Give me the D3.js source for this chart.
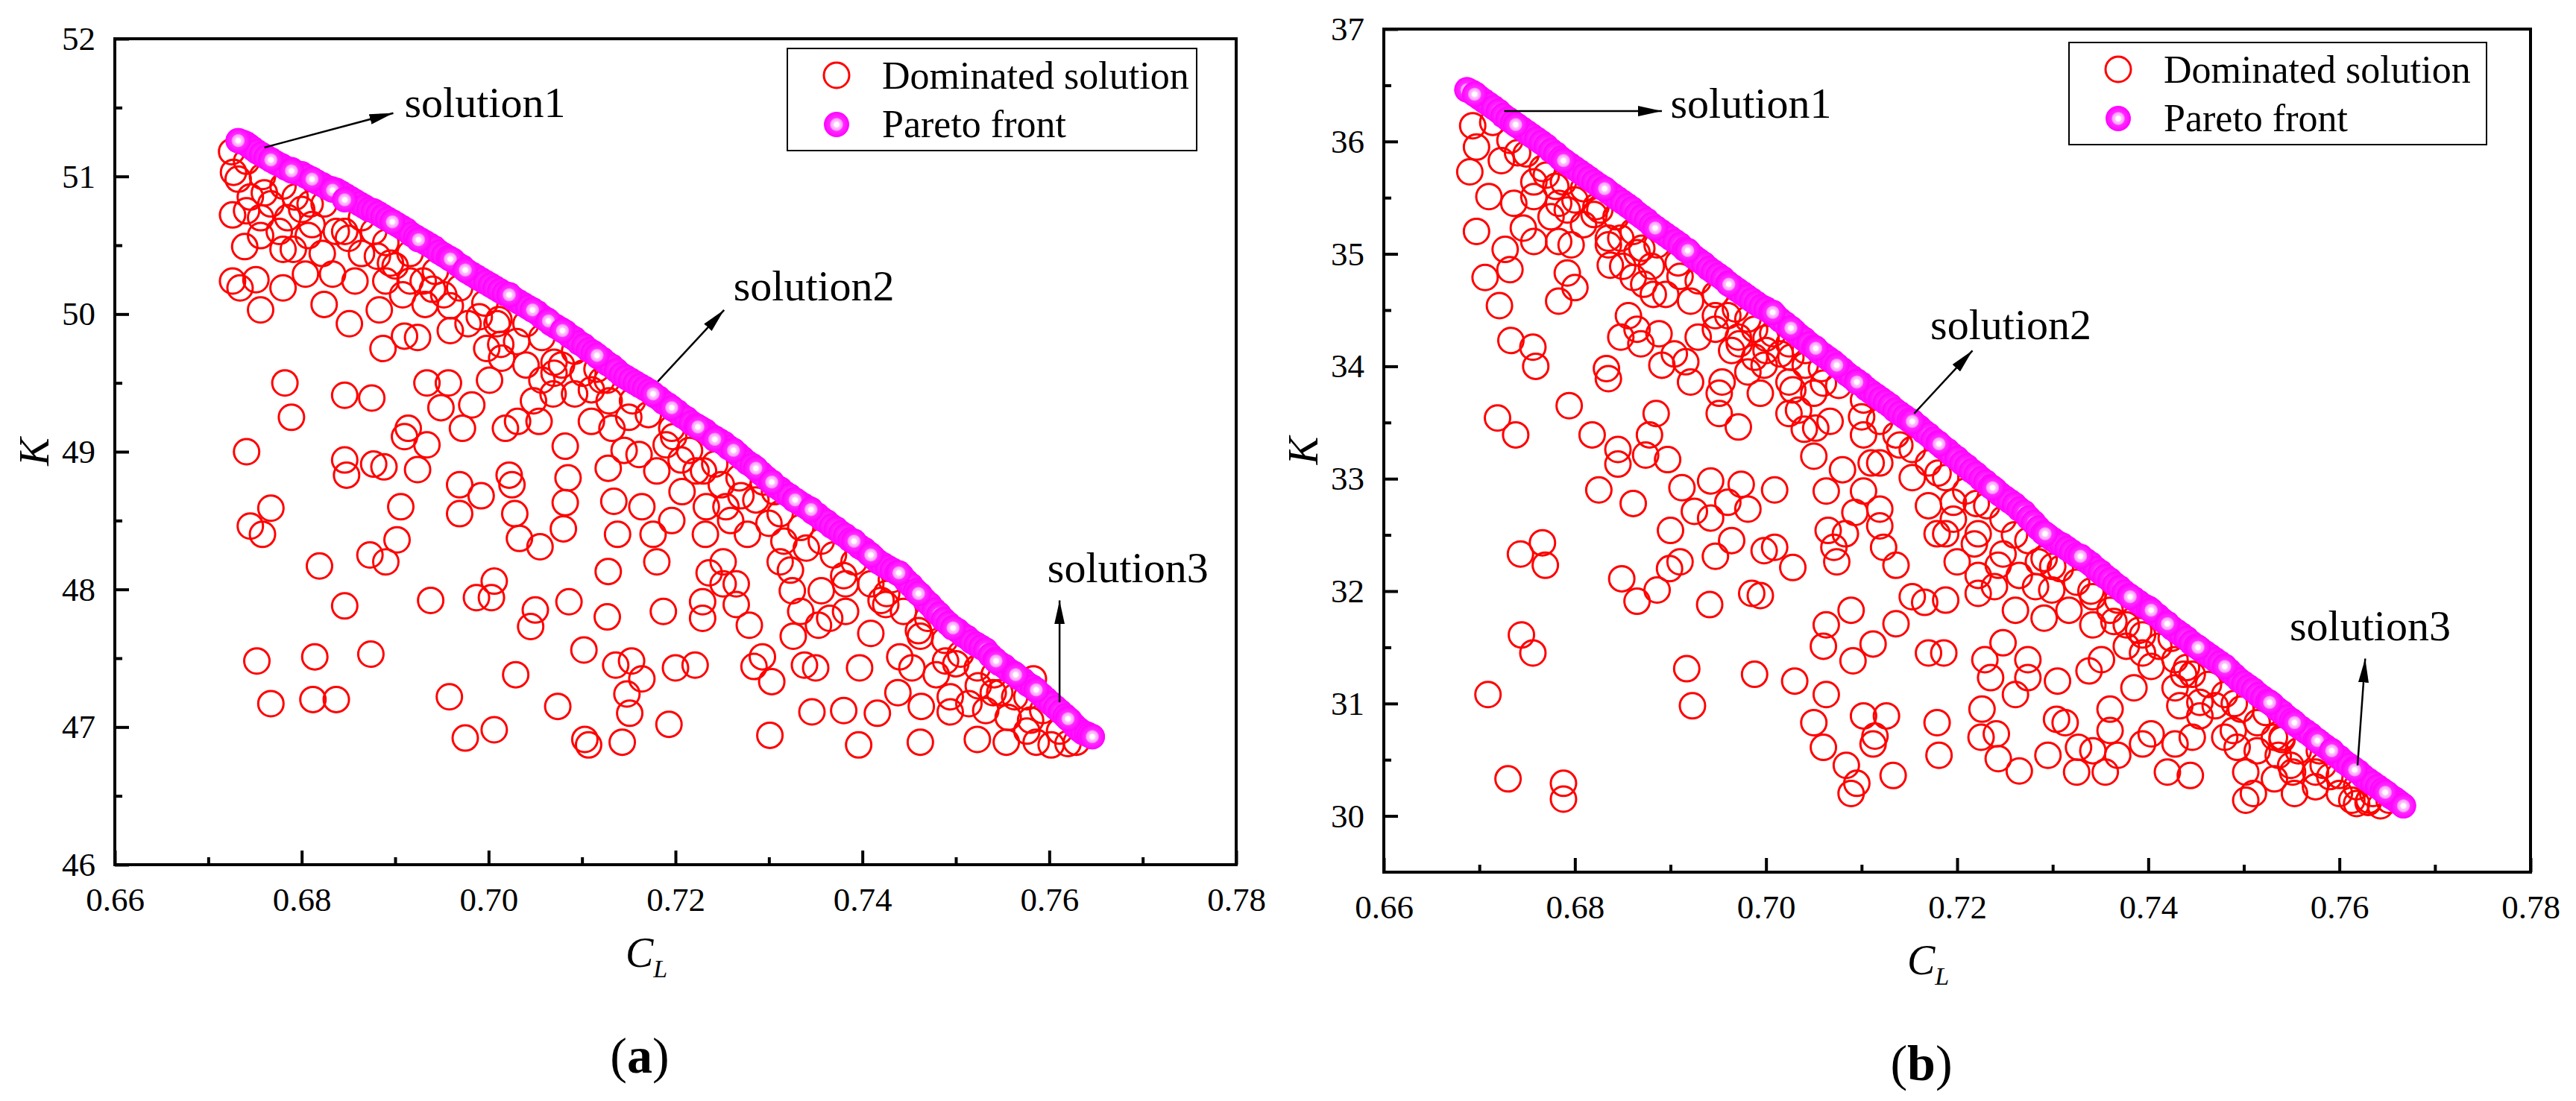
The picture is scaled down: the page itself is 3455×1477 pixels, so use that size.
<!DOCTYPE html>
<html>
<head>
<meta charset="utf-8">
<script src="https://cdn.jsdelivr.net/npm/d3@7"></script>
<style>
  body { margin: 0; background: #fff; }
  svg, text { font-family: "Liberation Serif", "Times New Roman", serif; fill: #000; }
</style>
</head>
<body>
<script>
// ---- tick values / labels
var xTicks = [0.66, 0.68, 0.70, 0.72, 0.74, 0.76, 0.78];
var xMinorTicks = [0.67, 0.69, 0.71, 0.73, 0.75, 0.77];
var yTicksA = [46, 47, 48, 49, 50, 51, 52];
var yMinorA = [46.5, 47.5, 48.5, 49.5, 50.5, 51.5];
var yTicksB = [30, 31, 32, 33, 34, 35, 36, 37];
var yMinorB = [30.5, 31.5, 32.5, 33.5, 34.5, 35.5, 36.5];
var legendLabels = ['Dominated solution', 'Pareto front'];

// ---- (a) dominated solutions [CL, K]
var dominatedA = [
  [0.6725,51.18],[0.6727,51.03],[0.6732,50.98],[0.6726,50.72],[0.6741,50.75],[0.6739,50.49],[0.6756,50.70],[0.6756,50.57],
  [0.6726,50.24],[0.6734,50.19],[0.6751,50.25],[0.6756,50.03],[0.6767,50.80],[0.6745,50.85],[0.6780,50.47],[0.6780,50.19],
  [0.6791,50.47],[0.6804,50.29],[0.6807,50.57],[0.6809,50.80],[0.6824,50.07],[0.6833,50.29],[0.6822,50.44],[0.6846,50.60],
  [0.6851,49.93],[0.6857,50.24],[0.6881,50.42],[0.6883,50.03],[0.6887,49.75],[0.6895,50.37],[0.6908,50.14],[0.6910,49.84],
  [0.6924,49.83],[0.6930,50.24],[0.6934,49.50],[0.6932,50.07],[0.6949,49.32],[0.6957,49.50],[0.6959,50.06],[0.6959,49.88],
  [0.6972,49.17],[0.6982,49.34],[0.7001,49.52],[0.6998,49.75],[0.7011,49.96],[0.7014,49.68],
  [0.6782,49.50],[0.6789,49.25],[0.6741,49.00],[0.6745,48.46],[0.6758,48.40],[0.6767,48.59],[0.6752,47.48],[0.6767,47.17],
  [0.6814,47.51],[0.6812,47.20],[0.6837,47.20],[0.6819,48.17],[0.6846,47.88],[0.6874,47.53],[0.6846,49.41],[0.6846,48.94],
  [0.6848,48.83],[0.6875,49.39],[0.6877,48.91],[0.6888,48.89],[0.6890,48.20],[0.6873,48.25],[0.6902,48.36],[0.6906,48.60],
  [0.6914,49.17],[0.6910,49.11],[0.6924,48.87],[0.6934,49.05],[0.6938,47.92],[0.6958,47.22],[0.6975,46.92],[0.6969,48.76],
  [0.6969,48.55],[0.6987,47.94],[0.6992,48.68],[0.7003,47.94],[0.7006,48.06],[0.7006,46.98],[0.7029,47.38],[0.7045,47.73],
  [0.7050,47.85],[0.7055,48.31],
  [0.7018,49.17],[0.7022,48.83],[0.7025,48.76],[0.7028,48.55],[0.7033,48.37],[0.7031,49.22],[0.7048,49.37],[0.7054,49.22],
  [0.7069,49.42],[0.7070,49.57],[0.7078,49.63],[0.7082,49.04],[0.7082,48.63],[0.7085,48.81],[0.7080,48.44],[0.7074,47.15],
  [0.7086,47.91],[0.7102,47.56],[0.7107,46.87],[0.7103,46.91],[0.7116,49.60],[0.7121,49.52],[0.7129,49.37],[0.7132,49.17],
  [0.7128,48.88],[0.7134,48.64],[0.7138,48.40],[0.7128,48.13],[0.7127,47.80],[0.7136,47.45],[0.7153,47.48],[0.7148,47.24],
  [0.7143,46.89],[0.7151,47.10],[0.7164,47.35],[0.7161,48.98],[0.7164,48.60],[0.7176,48.40],[0.7180,48.20],[0.7187,47.84],
  [0.7196,48.50],[0.7200,47.43],[0.7193,47.02],[0.7196,49.17],[0.7206,48.94],[0.7222,48.86],[0.7229,47.91],[0.7232,48.40],
  [0.7236,48.12],[0.7251,48.04],[0.7254,48.60],[0.7249,48.76],[0.7251,48.20],[0.7265,48.04],[0.7221,47.45],[0.7229,47.79],
  [0.7265,47.89],[0.7279,47.74],[0.7284,47.44],[0.7293,47.51],[0.7303,47.33],[0.7301,46.94],[0.7294,48.78],[0.7306,48.71],
  [0.7316,48.35],[0.7323,48.14],[0.7325,47.99],[0.7326,47.66],[0.7334,47.84],[0.7338,47.45],[0.7353,47.74],[0.7350,47.43],
  [0.7346,47.11],[0.7380,47.12],[0.7382,48.04],[0.7382,47.84],[0.7397,47.43],[0.7396,46.87],[0.7416,47.10],[0.7425,47.89],
  [0.7431,48.07],[0.7440,47.51],[0.7438,47.25],[0.7462,47.66],[0.7463,47.15],[0.7462,46.89],[0.7489,47.48],[0.7494,47.22],
  [0.7494,47.11],[0.7523,46.91],[0.7554,46.89],[0.7556,47.07],[0.7586,46.89],[0.7583,47.35],[0.7576,47.22],[0.7547,47.25],
  [0.7524,47.30],
  [0.6741,51.11],[0.6758,51.00],[0.6780,50.93],[0.6793,50.85],[0.6824,50.80],[0.6864,50.70],[0.6877,50.60],[0.6890,50.52],
  [0.6916,50.44],[0.6943,50.31],[0.6969,50.19],[0.6996,50.08],[0.7009,49.93],[0.7040,49.93],[0.7057,49.83],[0.7092,49.73],
  [0.7101,49.57],[0.7127,49.52],[0.7154,49.37],[0.7171,49.27],[0.7198,49.11],[0.7215,49.01],[0.7242,48.91],[0.7268,48.81],
  [0.7286,48.65],[0.7312,48.55],[0.7334,48.45],[0.7356,48.35],[0.7369,48.25],[0.7391,48.20],[0.7409,48.04],[0.7426,47.97],
  [0.7444,47.84],[0.7470,47.79],[0.7488,47.63],[0.7505,47.53],[0.7523,47.43],[0.7541,47.38],[0.7563,47.22],[0.7593,47.12],
  [0.7611,46.97],[0.7629,46.89],[0.7602,46.87],[0.7576,46.97],[0.7532,47.12],[0.7514,47.17],[0.7479,47.38],[0.7453,47.43],
  [0.7409,47.68],[0.7356,47.99],[0.7365,47.79],[0.7312,48.20],[0.7277,48.40],[0.7259,48.50],[0.7233,48.60],[0.7207,48.71],
  [0.7180,48.86],[0.7145,49.01],[0.7110,49.22],[0.7092,49.42],[0.7057,49.52],[0.7040,49.63],[0.7013,49.78],[0.6978,49.93],
  [0.6952,50.14],[0.6916,50.24],[0.6890,50.24],[0.6864,50.44],[0.6837,50.60],[0.6811,50.65],[0.6785,50.70],[0.6776,50.60],
  [0.6760,50.88],[0.6800,50.76],[0.6850,50.55],[0.6900,50.35],[0.6940,50.18],[0.6990,49.98],[0.7030,49.80],[0.7070,49.65],
  [0.7110,49.45],[0.7150,49.25],[0.7190,49.05],[0.7230,48.86],[0.7270,48.68],[0.7300,48.48],[0.7340,48.30],[0.7380,48.10],
  [0.7420,47.92],[0.7460,47.70],[0.7500,47.46],[0.7540,47.25],[0.7580,47.05],[0.7620,46.88]
];

// ---- (a) Pareto front (dense run along the front)
var paretoA = [
  [0.6732,51.26],[0.6740,51.24],[0.6748,51.20],[0.6757,51.16],[0.6767,51.12],[0.6778,51.08],[0.6789,51.05],[0.6800,51.02],
  [0.6811,50.98],[0.6822,50.94],[0.6832,50.91],[0.6842,50.88],[0.6852,50.84],[0.6862,50.80],[0.6872,50.76],[0.6882,50.73],
  [0.6892,50.69],[0.6902,50.65],[0.6912,50.61],[0.6922,50.56],[0.6932,50.52],[0.6942,50.48],[0.6952,50.43],[0.6962,50.39],
  [0.6972,50.34],[0.6982,50.29],[0.6992,50.25],[0.7002,50.21],[0.7012,50.17],[0.7022,50.14],[0.7032,50.09],[0.7042,50.05],
  [0.7052,50.01],[0.7062,49.96],[0.7072,49.91],[0.7082,49.87],[0.7092,49.82],[0.7102,49.77],[0.7112,49.72],[0.7122,49.67],
  [0.7132,49.62],[0.7142,49.56],[0.7152,49.52],[0.7162,49.48],[0.7172,49.44],[0.7182,49.39],[0.7192,49.34],[0.7202,49.29],
  [0.7212,49.24],[0.7222,49.19],[0.7232,49.15],[0.7242,49.10],[0.7252,49.06],[0.7262,49.01],[0.7272,48.95],[0.7282,48.90],
  [0.7292,48.84],[0.7302,48.78],[0.7312,48.73],[0.7322,48.68],[0.7332,48.63],[0.7342,48.59],[0.7352,48.54],[0.7362,48.49],
  [0.7372,48.44],[0.7382,48.39],[0.7392,48.34],[0.7402,48.29],[0.7412,48.23],[0.7422,48.18],[0.7432,48.14],[0.7442,48.10],
  [0.7452,48.03],[0.7462,47.96],[0.7472,47.89],[0.7482,47.82],[0.7492,47.75],[0.7502,47.70],[0.7512,47.65],[0.7522,47.60],
  [0.7532,47.56],[0.7542,47.49],[0.7552,47.44],[0.7562,47.39],[0.7572,47.34],[0.7582,47.29],[0.7592,47.23],[0.7602,47.17],
  [0.7612,47.11],[0.7622,47.05],[0.7632,46.98],[0.7640,46.95],[0.7646,46.93],
  [0.6736,51.25],[0.6744,51.22],[0.6752,51.18],[0.6762,51.14],[0.6772,51.10],[0.6783,51.06],[0.6794,51.03],[0.6805,51.00],
  [0.6816,50.96],[0.6827,50.92],[0.6837,50.90],[0.6847,50.86],[0.6857,50.82],[0.6867,50.78],[0.6877,50.75],[0.6887,50.71],
  [0.6897,50.67],[0.6907,50.63],[0.6917,50.58],[0.6927,50.54],[0.6937,50.50],[0.6947,50.45],[0.6957,50.41],[0.6967,50.36],
  [0.6977,50.31],[0.6987,50.27],[0.6997,50.23],[0.7007,50.19],[0.7017,50.15],[0.7027,50.11],[0.7037,50.07],[0.7047,50.03],
  [0.7057,49.98],[0.7067,49.93],[0.7077,49.89],[0.7087,49.84],[0.7097,49.79],[0.7107,49.74],[0.7117,49.69],[0.7127,49.64],
  [0.7137,49.59],[0.7147,49.54],[0.7157,49.50],[0.7167,49.46],[0.7177,49.41],[0.7187,49.36],[0.7197,49.31],[0.7207,49.26],
  [0.7217,49.21],[0.7227,49.17],[0.7237,49.12],[0.7247,49.08],[0.7257,49.03],[0.7267,48.98],[0.7277,48.92],[0.7287,48.87],
  [0.7297,48.81],[0.7307,48.75],[0.7317,48.70],[0.7327,48.65],[0.7337,48.61],[0.7347,48.56],[0.7357,48.51],[0.7367,48.46],
  [0.7377,48.41],[0.7387,48.36],[0.7397,48.31],[0.7407,48.26],[0.7417,48.20],[0.7427,48.16],[0.7437,48.12],[0.7447,48.06],
  [0.7457,47.99],[0.7467,47.92],[0.7477,47.85],[0.7487,47.78],[0.7497,47.72],[0.7507,47.67],[0.7517,47.62],[0.7527,47.58],
  [0.7537,47.52],[0.7547,47.46],[0.7557,47.41],[0.7567,47.36],[0.7577,47.31],[0.7587,47.26],[0.7597,47.20],[0.7607,47.14],
  [0.7617,47.08],[0.7627,47.01],[0.7636,46.96],[0.7643,46.94]
];
// (a) Pareto points that sit on top (their highlights stay visible)
var paretoTopA = [
  [0.6732,51.26],[0.6767,51.12],[0.6789,51.04],[0.6811,50.98],[0.6833,50.90],[0.6846,50.83],[0.6897,50.67],[0.6925,50.54],
  [0.6959,50.40],[0.6975,50.32],[0.7022,50.14],[0.7047,50.03],[0.7064,49.95],[0.7079,49.88],[0.7116,49.70],[0.7176,49.42],
  [0.7196,49.32],[0.7224,49.18],[0.7242,49.09],[0.7262,49.01],[0.7286,48.88],[0.7303,48.78],[0.7328,48.65],[0.7345,48.58],
  [0.7391,48.35],[0.7409,48.25],[0.7439,48.12],[0.7460,47.97],[0.7497,47.72],[0.7543,47.48],[0.7564,47.38],[0.7586,47.27],
  [0.7620,47.06],[0.7646,46.93]
];

// ---- (b) dominated solutions
var dominatedB = [
  [0.6693,36.14],[0.6697,35.95],[0.6690,35.73],[0.6697,35.20],[0.6706,34.79],[0.6721,34.54],[0.6710,35.51],[0.6727,35.04],
  [0.6732,34.86],[0.6736,35.45],[0.6746,35.23],[0.6757,35.11],[0.6757,35.51],[0.6775,35.33],[0.6770,35.70],[0.6792,35.39],
  [0.6796,35.08],[0.6783,35.11],[0.6783,34.58],[0.6800,34.70],[0.6792,34.83],[0.6809,35.58],[0.6822,35.42],[0.6835,35.14],
  [0.6837,34.90],[0.6848,35.14],[0.6850,34.89],[0.6865,35.01],[0.6872,34.73],[0.6880,34.89],[0.6882,34.64],[0.6888,34.29],
  [0.6856,34.45],[0.6865,34.33],[0.6848,34.26],[0.6869,34.20],[0.6891,34.01],[0.6904,34.11],[0.6916,34.04],[0.6921,33.86],
  [0.6929,34.26],[0.6947,34.45],[0.6954,33.86],[0.6951,33.58],[0.6964,34.14],[0.6971,34.26],[0.6988,34.33],[0.6988,34.08],
  [0.6994,33.76],[0.7000,34.14],[0.7015,34.11],[0.7026,34.08],[0.7028,33.79],[0.7041,34.01],[0.7034,33.61],[0.7040,33.44],
  [0.7024,33.58],[0.6981,33.95],[0.6951,33.76],
  [0.6733,34.23],[0.6756,34.17],[0.6759,34.00],[0.6719,33.54],[0.6738,33.39],[0.6794,33.65],[0.6818,33.39],[0.6825,32.90],
  [0.6835,33.89],[0.6833,33.98],[0.6845,33.26],[0.6845,33.13],[0.6861,32.78],[0.6849,32.11],[0.6865,31.91],[0.6886,32.01],
  [0.6899,32.20],[0.6900,32.54],[0.6912,32.92],[0.6910,32.26],[0.6925,32.71],[0.6942,32.98],[0.6942,32.65],[0.6947,32.31],
  [0.6941,31.88],[0.6960,32.79],[0.6964,32.45],[0.6971,33.46],[0.6974,32.95],[0.6981,32.73],[0.6985,31.98],[0.6994,31.96],
  [0.6998,32.36],[0.7009,32.90],[0.7009,32.39],[0.7028,32.21],[0.7030,31.20],[0.6988,31.26],[0.6923,30.98],[0.6917,31.31],
  [0.6897,33.17],[0.6878,33.39],[0.6885,33.58],[0.6874,33.21],
  [0.6709,31.08],[0.6744,31.61],[0.6756,31.45],[0.6743,32.33],[0.6769,32.23],[0.6766,32.43],[0.6730,30.33],[0.6788,30.29],
  [0.6788,30.15],
  [0.7050,30.83],[0.7060,30.61],[0.7063,31.08],[0.7084,30.45],[0.7089,30.20],[0.7095,30.29],[0.7089,31.83],[0.7091,31.38],
  [0.7102,30.89],[0.7112,31.53],[0.7114,30.71],[0.7112,30.64],[0.7126,30.89],[0.7136,31.71],[0.7133,30.36],[0.7060,31.51],
  [0.7063,31.70],[0.7074,32.26],[0.7071,32.39],[0.7083,32.51],[0.7093,32.70],[0.7102,32.89],[0.7110,33.14],[0.7080,33.08],
  [0.7065,32.54],[0.7063,32.89],[0.7050,33.20],[0.7052,33.45],[0.7119,32.73],[0.7119,32.58],[0.7123,32.39],[0.7136,32.23],
  [0.7153,31.95],[0.7166,31.90],[0.7170,31.45],[0.7179,30.83],[0.7181,30.54],[0.7188,31.92],[0.7186,31.45],[0.7188,32.51],
  [0.7200,32.26],[0.7179,32.51],[0.7196,32.79],[0.7218,32.42],[0.7222,32.14],[0.7222,31.98],[0.7229,31.39],[0.7235,31.23],
  [0.7226,30.95],[0.7225,30.70],[0.7241,30.73],[0.7243,30.51],[0.7243,32.23],[0.7239,32.04],[0.7248,31.54],[0.7261,31.08],
  [0.7265,30.40],[0.7261,31.83],[0.7274,31.39],[0.7274,31.23],[0.7285,32.26],[0.7282,32.04],[0.7291,31.76],[0.7295,30.54],
  [0.7304,30.86],[0.7305,31.20],[0.7313,30.83],[0.7325,30.39],[0.7327,30.61],[0.7338,31.29],[0.7342,30.58],[0.7355,30.39],
  [0.7360,30.76],[0.7351,31.39],[0.7360,30.95],[0.7368,30.54],[0.7364,31.73],[0.7368,31.92],[0.7385,31.14],[0.7394,31.45],
  [0.7394,30.64],[0.7403,30.73],[0.7420,30.39],[0.7428,30.64],[0.7444,30.36],[0.7433,30.98],[0.7437,31.26],[0.7424,31.58],
  [0.7446,30.70],[0.7454,31.01],[0.7470,30.98],[0.7489,30.76],[0.7493,30.61],[0.7502,30.39],[0.7523,30.92],[0.7532,30.70],
  [0.7536,30.54],[0.7551,30.39],[0.7553,30.20],[0.7575,30.39],[0.7579,30.58],[0.7600,30.20],[0.7613,30.14],[0.7618,30.11],
  [0.7631,30.14],[0.7643,30.09],[0.7510,30.20],[0.7502,30.14],
  [0.6714,36.17],[0.6732,36.01],[0.6749,35.89],[0.6766,35.76],[0.6788,35.64],[0.6800,35.48],[0.6826,35.39],[0.6843,35.33],
  [0.6861,35.20],[0.6886,35.08],[0.6908,34.92],[0.6929,34.76],[0.6947,34.64],[0.6968,34.51],[0.6981,34.42],[0.7007,34.29],
  [0.7024,34.20],[0.7041,34.14],[0.7058,33.98],[0.7076,33.83],[0.7102,33.70],[0.7119,33.51],[0.7136,33.39],[0.7153,33.26],
  [0.7170,33.14],[0.7188,33.01],[0.7209,32.89],[0.7231,32.76],[0.7248,32.64],[0.7274,32.45],[0.7291,32.29],[0.7308,32.20],
  [0.7325,32.08],[0.7342,31.95],[0.7360,31.83],[0.7377,31.70],[0.7394,31.61],[0.7411,31.51],[0.7428,31.39],[0.7446,31.26],
  [0.7463,31.17],[0.7480,31.08],[0.7497,30.95],[0.7514,30.83],[0.7540,30.70],[0.7557,30.58],[0.7583,30.45],[0.7600,30.36],
  [0.7618,30.26],[0.7635,30.20],[0.7652,30.14],
  [0.6723,35.83],[0.6757,35.64],[0.6783,35.45],[0.6809,35.26],[0.6835,35.08],[0.6861,34.79],[0.6895,34.64],[0.6921,34.58],
  [0.6947,34.33],[0.6972,34.20],[0.6998,34.01],[0.7024,33.86],[0.7050,33.76],[0.7067,33.51],[0.7102,33.39],[0.7119,33.14],
  [0.7153,33.01],[0.7170,32.76],[0.7196,32.64],[0.7222,32.51],[0.7248,32.33],[0.7265,32.14],[0.7299,32.01],[0.7317,31.83],
  [0.7342,31.70],[0.7377,31.51],[0.7403,31.33],[0.7428,31.14],[0.7454,30.89],[0.7480,30.70],[0.7514,30.58],[0.7549,30.45],
  [0.7575,30.26],[0.7532,30.33],
  [0.6740,35.90],[0.6780,35.60],[0.6820,35.35],[0.6870,35.05],[0.6910,34.80],[0.6960,34.45],[0.7000,34.25],[0.7060,33.85],
  [0.7100,33.55],[0.7140,33.30],[0.7180,33.05],[0.7220,32.78],[0.7260,32.50],[0.7300,32.22],[0.7340,32.00],[0.7390,31.65],
  [0.7440,31.32],[0.7490,31.00],[0.7540,30.68],[0.7590,30.35],[0.7630,30.12]
];

// ---- (b) Pareto front
var paretoB = [
  [0.6687,36.46],[0.6692,36.44],[0.6700,36.39],[0.6710,36.33],[0.6720,36.27],[0.6730,36.20],[0.6740,36.14],[0.6750,36.08],
  [0.6760,36.02],[0.6770,35.96],[0.6780,35.89],[0.6790,35.82],[0.6800,35.76],[0.6810,35.70],[0.6820,35.64],[0.6830,35.58],
  [0.6840,35.52],[0.6850,35.46],[0.6860,35.40],[0.6870,35.33],[0.6880,35.26],[0.6890,35.20],[0.6900,35.14],[0.6910,35.08],
  [0.6920,35.01],[0.6930,34.94],[0.6940,34.87],[0.6950,34.81],[0.6960,34.74],[0.6970,34.68],[0.6980,34.62],[0.6990,34.56],
  [0.7000,34.51],[0.7010,34.45],[0.7020,34.38],[0.7030,34.31],[0.7040,34.24],[0.7050,34.17],[0.7060,34.10],[0.7070,34.04],
  [0.7080,33.97],[0.7090,33.90],[0.7100,33.84],[0.7110,33.77],[0.7120,33.71],[0.7130,33.65],[0.7140,33.58],[0.7150,33.52],
  [0.7160,33.46],[0.7170,33.39],[0.7180,33.32],[0.7190,33.25],[0.7200,33.18],[0.7210,33.11],[0.7220,33.04],[0.7230,32.97],
  [0.7240,32.90],[0.7250,32.83],[0.7260,32.77],[0.7270,32.70],[0.7280,32.61],[0.7290,32.52],[0.7300,32.46],[0.7310,32.41],
  [0.7320,32.35],[0.7330,32.30],[0.7340,32.24],[0.7350,32.17],[0.7360,32.10],[0.7370,32.03],[0.7380,31.96],[0.7390,31.90],
  [0.7400,31.85],[0.7410,31.78],[0.7420,31.71],[0.7430,31.64],[0.7440,31.58],[0.7450,31.51],[0.7460,31.45],[0.7470,31.39],
  [0.7480,31.33],[0.7490,31.25],[0.7500,31.18],[0.7510,31.12],[0.7520,31.05],[0.7530,30.99],[0.7540,30.92],[0.7550,30.85],
  [0.7560,30.78],[0.7570,30.72],[0.7580,30.65],[0.7590,30.59],[0.7600,30.52],[0.7610,30.45],[0.7620,30.39],[0.7630,30.32],
  [0.7640,30.26],[0.7650,30.20],[0.7658,30.15],[0.7664,30.11],[0.7667,30.09],
  [0.6696,36.42],[0.6705,36.36],[0.6715,36.30],[0.6725,36.23],[0.6735,36.17],[0.6745,36.11],[0.6755,36.05],[0.6765,35.99],
  [0.6775,35.92],[0.6785,35.85],[0.6795,35.79],[0.6805,35.73],[0.6815,35.67],[0.6825,35.61],[0.6835,35.55],[0.6845,35.49],
  [0.6855,35.43],[0.6865,35.36],[0.6875,35.30],[0.6885,35.23],[0.6895,35.17],[0.6905,35.11],[0.6915,35.04],[0.6925,34.97],
  [0.6935,34.91],[0.6945,34.84],[0.6955,34.78],[0.6965,34.71],[0.6975,34.65],[0.6985,34.59],[0.6995,34.53],[0.7005,34.48],
  [0.7015,34.41],[0.7025,34.34],[0.7035,34.27],[0.7045,34.20],[0.7055,34.13],[0.7065,34.07],[0.7075,34.00],[0.7085,33.93],
  [0.7095,33.87],[0.7105,33.80],[0.7115,33.74],[0.7125,33.68],[0.7135,33.61],[0.7145,33.55],[0.7155,33.49],[0.7165,33.42],
  [0.7175,33.35],[0.7185,33.28],[0.7195,33.21],[0.7205,33.14],[0.7215,33.07],[0.7225,33.00],[0.7235,32.93],[0.7245,32.86],
  [0.7255,32.80],[0.7265,32.73],[0.7275,32.65],[0.7285,32.56],[0.7295,32.49],[0.7305,32.43],[0.7315,32.38],[0.7325,32.32],
  [0.7335,32.27],[0.7345,32.20],[0.7355,32.13],[0.7365,32.06],[0.7375,31.99],[0.7385,31.93],[0.7395,31.87],[0.7405,31.81],
  [0.7415,31.74],[0.7425,31.67],[0.7435,31.61],[0.7445,31.54],[0.7455,31.48],[0.7465,31.42],[0.7475,31.36],[0.7485,31.29],
  [0.7495,31.21],[0.7505,31.15],[0.7515,31.08],[0.7525,31.02],[0.7535,30.95],[0.7545,30.88],[0.7555,30.81],[0.7565,30.75],
  [0.7575,30.68],[0.7585,30.62],[0.7595,30.55],[0.7605,30.48],[0.7615,30.42],[0.7625,30.35],[0.7635,30.29],[0.7645,30.23],
  [0.7654,30.17],[0.7661,30.13]
];
var paretoTopB = [
  [0.6687,36.46],[0.6695,36.42],[0.6738,36.15],[0.6788,35.83],[0.6831,35.58],[0.6884,35.23],[0.6918,35.03],[0.6961,34.73],
  [0.7007,34.48],[0.7026,34.34],[0.7052,34.16],[0.7074,34.01],[0.7095,33.86],[0.7153,33.51],[0.7181,33.31],[0.7237,32.92],
  [0.7292,32.51],[0.7329,32.31],[0.7381,31.95],[0.7403,31.83],[0.7420,31.71],[0.7452,31.50],[0.7480,31.33],[0.7527,31.01],
  [0.7553,30.83],[0.7577,30.67],[0.7592,30.58],[0.7616,30.41],[0.7648,30.21],[0.7667,30.09]
];

// ---- annotations: arrow tail, arrow tip, text start (data units)
var notesA = [
  { label: 'solution1', from: [0.6760, 51.21], to: [0.6898, 51.46], at: [0.6910, 51.43] },
  { label: 'solution2', from: [0.7181, 49.51], to: [0.7252, 50.03], at: [0.7262, 50.10] },
  { label: 'solution3', from: [0.7611, 47.18], to: [0.7611, 47.92], at: [0.7598, 48.05] }
];
var notesB = [
  { label: 'solution1', from: [0.6726, 36.27], to: [0.6891, 36.27], at: [0.6900, 36.21] },
  { label: 'solution2', from: [0.7155, 33.58], to: [0.7216, 34.14], at: [0.7172, 34.24] },
  { label: 'solution3', from: [0.7619, 30.45], to: [0.7627, 31.40], at: [0.7548, 31.56] }
];

var W = 3455, H = 1477;
var svg = d3.select('body').append('svg').attr('width', W).attr('height', H)
  .attr('font-family', '"Liberation Serif", "Times New Roman", serif')
  .style('display', 'block');
svg.append('rect').attr('width', W).attr('height', H).attr('fill', '#fff');

var defs = svg.append('defs');
// shaded ball used for the Pareto points
var grad = defs.append('radialGradient').attr('id', 'ball')
  .attr('cx', '0.5').attr('cy', '0.5').attr('r', '0.5');
[[0, '#ffffff'], [0.18, '#ffffff'], [0.26, '#ffc4ff'], [0.46, '#ff9cff'], [0.54, '#ff2cff'], [1, '#ff00ff']]
  .forEach(function (s) {
    grad.append('stop').attr('offset', s[0]).attr('stop-color', s[1]);
  });
defs.append('marker').attr('id', 'head')
  .attr('viewBox', '0 0 32 14').attr('refX', 32).attr('refY', 7)
  .attr('markerWidth', 32).attr('markerHeight', 14)
  .attr('markerUnits', 'userSpaceOnUse').attr('orient', 'auto')
  .append('path').attr('d', 'M0,0 L32,7 L0,14 Z').attr('fill', '#000');

function drawPanel(p) {
  var x = d3.scaleLinear().domain([0.66, 0.78]).range([p.left, p.right]);
  var y = d3.scaleLinear().domain(p.yDomain).range([p.bottom, p.top]);
  var g = svg.append('g');

  // axes (ticks point inwards)
  var ax = g.append('g').attr('transform', 'translate(0,' + p.bottom + ')')
    .call(d3.axisBottom(x).tickValues(xTicks).tickFormat(d3.format('.2f'))
      .tickSizeInner(-19).tickSizeOuter(0).tickPadding(30));
  var axm = g.append('g').attr('transform', 'translate(0,' + p.bottom + ')')
    .call(d3.axisBottom(x).tickValues(xMinorTicks).tickFormat('')
      .tickSizeInner(-10).tickSizeOuter(0));
  var ay = g.append('g').attr('transform', 'translate(' + p.left + ',0)')
    .call(d3.axisLeft(y).tickValues(p.yTicks).tickFormat(d3.format('d'))
      .tickSizeInner(-19).tickSizeOuter(0).tickPadding(26));
  var aym = g.append('g').attr('transform', 'translate(' + p.left + ',0)')
    .call(d3.axisLeft(y).tickValues(p.yMinor).tickFormat('')
      .tickSizeInner(-10).tickSizeOuter(0));
  [ax, axm, ay, aym].forEach(function (a) {
    a.select('.domain').remove();
    a.selectAll('line').attr('stroke-width', 4);
    a.attr('font-size', 45).attr('font-family', null);
  });

  // dominated solutions: open red circles
  g.append('g').selectAll('circle').data(p.dominated).join('circle')
    .attr('cx', function (d) { return x(d[0]); })
    .attr('cy', function (d) { return y(d[1]); })
    .attr('r', 17).attr('fill', 'none')
    .attr('stroke', '#ff0000').attr('stroke-width', 3);

  // Pareto front: magenta balls, drawn left to right, then the top layer
  var front = d3.sort(p.pareto, function (d) { return d[0]; }).concat(p.paretoTop);
  g.append('g').selectAll('circle').data(front).join('circle')
    .attr('cx', function (d) { return x(d[0]); })
    .attr('cy', function (d) { return y(d[1]); })
    .attr('r', 17).attr('fill', 'url(#ball)');

  // frame
  g.append('rect').attr('x', p.left).attr('y', p.top)
    .attr('width', p.right - p.left).attr('height', p.bottom - p.top)
    .attr('fill', 'none').attr('stroke', '#000').attr('stroke-width', 4);

  // annotations
  p.notes.forEach(function (n) {
    g.append('line')
      .attr('x1', x(n.from[0])).attr('y1', y(n.from[1]))
      .attr('x2', x(n.to[0])).attr('y2', y(n.to[1]))
      .attr('stroke', '#000').attr('stroke-width', 2.5)
      .attr('marker-end', 'url(#head)');
    g.append('text').attr('x', x(n.at[0])).attr('y', y(n.at[1]))
      .attr('font-size', 58).text(n.label);
  });

  // legend
  var lg = g.append('g').attr('transform', 'translate(' + p.legend[0] + ',' + p.legend[1] + ')');
  lg.append('rect').attr('width', p.legend[2]).attr('height', 137)
    .attr('fill', '#fff').attr('stroke', '#000').attr('stroke-width', 2);
  lg.append('circle').attr('cx', 66).attr('cy', 36).attr('r', 17)
    .attr('fill', 'none').attr('stroke', '#ff0000').attr('stroke-width', 3);
  lg.append('circle').attr('cx', 66).attr('cy', 102).attr('r', 17).attr('fill', 'url(#ball)');
  lg.selectAll('text.lab').data(legendLabels).join('text').attr('class', 'lab')
    .attr('x', 127).attr('y', function (d, i) { return 54 + i * 65; })
    .attr('font-size', 52).text(function (d) { return d; });

  // axis titles
  var cx = (p.left + p.right) / 2;
  var cy = (p.top + p.bottom) / 2;
  g.append('text').attr('transform', 'translate(' + (p.left - 109) + ',' + cy + ') rotate(-90)')
    .attr('text-anchor', 'middle').attr('dy', '0.35em')
    .attr('font-size', 56).attr('font-style', 'italic').text('K');
  var ct = g.append('text').attr('x', cx - 67).attr('y', p.bottom + 137)
    .attr('font-size', 56).attr('font-style', 'italic');
  ct.append('tspan').text('C');
  ct.append('tspan').attr('font-size', 34).attr('dy', 14).text('L');

  // panel label
  var pl = g.append('text').attr('x', cx - 48).attr('y', p.bottom + 279)
    .attr('text-anchor', 'middle').attr('font-size', 68);
  pl.append('tspan').text('(');
  pl.append('tspan').attr('font-weight', 'bold').text(p.label);
  pl.append('tspan').text(')');
}

drawPanel({
  left: 154, right: 1658, top: 52, bottom: 1160,
  yDomain: [46, 52], yTicks: yTicksA, yMinor: yMinorA,
  dominated: dominatedA, pareto: paretoA, paretoTop: paretoTopA, notes: notesA,
  legend: [1056, 65, 549], label: 'a'
});
drawPanel({
  left: 1856, right: 3394, top: 39, bottom: 1170,
  yDomain: [29.5, 37], yTicks: yTicksB, yMinor: yMinorB,
  dominated: dominatedB, pareto: paretoB, paretoTop: paretoTopB, notes: notesB,
  legend: [2775, 57, 560], label: 'b'
});
</script>
</body>
</html>
